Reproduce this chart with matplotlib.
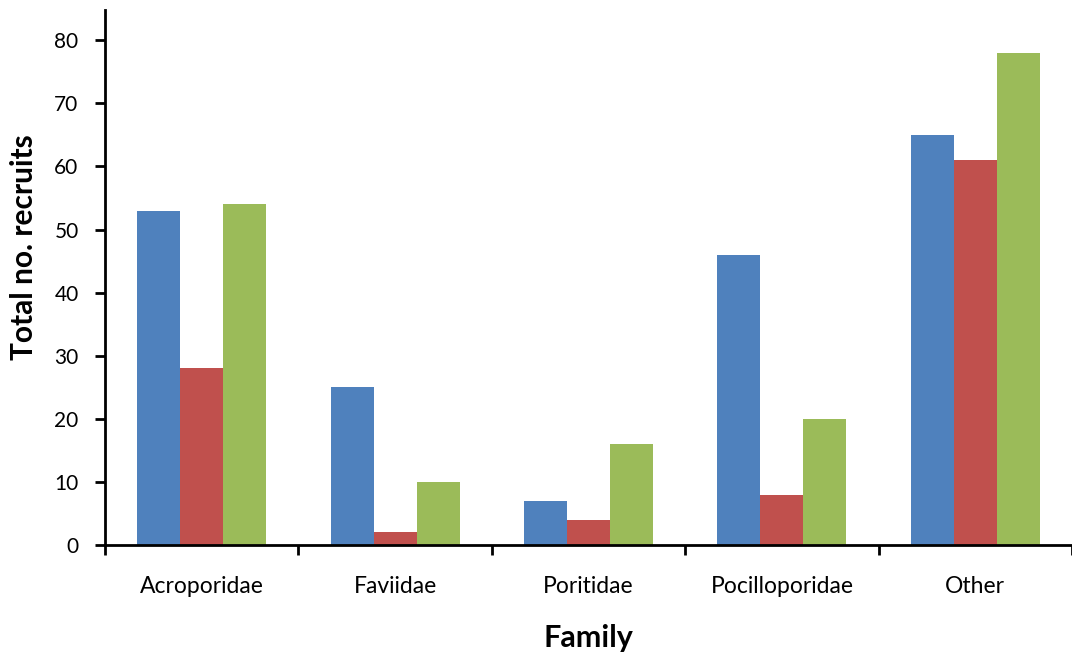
import matplotlib
matplotlib.use("Agg")
import matplotlib.pyplot as plt
import numpy as np

categories = ["Acroporidae", "Faviidae", "Poritidae", "Pocilloporidae", "Other"]
series_a = [53, 25, 7, 46, 65]
series_b = [28, 2, 4, 8, 61]
series_c = [54, 10, 16, 20, 78]
colors = ["#4F81BD", "#C0504D", "#9BBB59"]
yticks = [0, 10, 20, 30, 40, 50, 60, 70, 80]

plt.rcParams['font.family'] = ['Lato', 'DejaVu Sans']

fig = plt.figure(figsize=(10.72, 6.53), dpi=100)
ax = fig.add_axes([105/1072, (653-545)/653, 1 - 105/1072, (545-10)/653])

x = np.arange(len(categories))
w = 1/4.5
for i, (vals, c) in enumerate(zip([series_a, series_b, series_c], colors)):
    ax.bar(x + (i-1)*w, vals, width=w, color=c, edgecolor='none', zorder=2)

ax.set_xlim(-0.5, 4.47)
ax.set_ylim(0, 84.8)
ax.set_yticks(yticks)
ax.set_yticklabels([str(v) for v in yticks], fontsize=15)
ax.set_xticks(x)
ax.set_xticklabels(categories, fontsize=16.5)
ax.set_xticks(np.arange(-0.5, 5.0, 1.0), minor=True)
ax.tick_params(axis='x', which='major', length=0, pad=22)
ax.tick_params(axis='x', which='minor', length=7, width=2, direction='out')
ax.tick_params(axis='y', length=7, width=2, direction='out', pad=12)

for s in ['top', 'right']:
    ax.spines[s].set_visible(False)
for s in ['left', 'bottom']:
    ax.spines[s].set_linewidth(2)

ax.set_xlabel("Family", fontsize=22, fontweight='bold', labelpad=20)
ax.set_ylabel("Total no. recruits", fontsize=21.5, fontweight='bold')
ax.yaxis.set_label_coords(-0.069, 0.557)

fig.savefig("out.png", dpi=100)
